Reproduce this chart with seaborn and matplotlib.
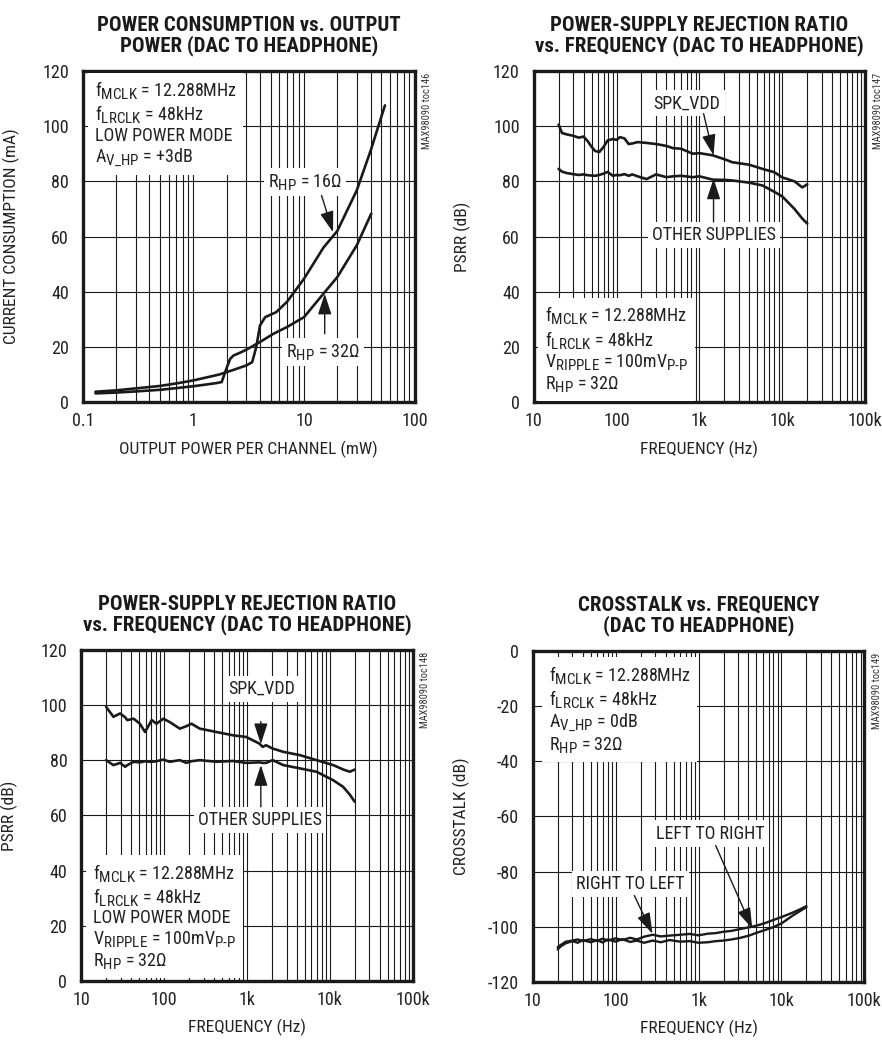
import numpy as np
import pandas as pd
import matplotlib
matplotlib.use("Agg")
import matplotlib.pyplot as plt
from matplotlib import font_manager
from matplotlib.ticker import LogLocator, FixedLocator, FixedFormatter, NullFormatter
import seaborn as sns

sns.set_style("white")

# datasheet subscripts are nearly full size
try:
    import matplotlib._mathtext as _mt
    _mt.SHRINK_FACTOR = 0.84
except Exception:
    pass


def pick(prefs, min_weight=0):
    # first installed family from prefs (optionally needing a heavy face)
    for name in prefs:
        for f in font_manager.fontManager.ttflist:
            if f.name != name:
                continue
            try:
                w = int(f.weight)
            except (TypeError, ValueError):
                w = 700 if 'bold' in str(f.weight) else 400
            if w >= min_weight:
                return name
    return 'DejaVu Sans'


BODY = pick(['Roboto Condensed', 'Liberation Sans Narrow', 'Archivo Narrow', 'PT Sans Narrow',
             'Asap Condensed', 'Barlow Semi Condensed'])
HEAD = pick(['Roboto Condensed', 'Archivo Narrow', 'Asap Condensed', 'Barlow Semi Condensed',
             'Barlow Condensed'], min_weight=700)

plt.rcParams['font.family'] = [BODY, 'DejaVu Sans']
plt.rcParams['mathtext.fontset'] = 'custom'
plt.rcParams['mathtext.rm'] = BODY
plt.rcParams['mathtext.it'] = BODY + ':italic'
plt.rcParams['mathtext.bf'] = BODY + ':bold'
plt.rcParams['axes.unicode_minus'] = False

INK = '#1a1a1a'

# --- power consumption vs output power (mW -> mA)
pc16_pow = [0.13, 0.2, 0.3, 0.5, 0.7, 1, 1.7, 2.3, 3.0, 3.4, 3.7, 4.0, 4.45, 5.6, 7, 10, 15, 20, 30, 40, 54]
pc16_ma = [3.8, 4.3, 5.0, 5.9, 6.8, 7.9, 10.0, 11.7, 13.3, 14.5, 20, 27.8, 30.8, 32.6, 36.3, 44.7, 56, 62, 76.7, 91, 107.5]
pc32_pow = [0.13, 0.2, 0.3, 0.5, 0.7, 1, 1.3, 1.6, 1.8, 2.0, 2.15, 2.3, 2.6, 3, 4, 5.3, 7, 10, 15, 20, 30, 40.6]
pc32_ma = [3.2, 3.5, 3.9, 4.5, 5.1, 5.8, 6.4, 6.9, 7.3, 12.5, 15.7, 16.9, 17.8, 19, 21.8, 24.8, 27.2, 30.8, 39.3, 45.3, 56.8, 68.3]

# --- PSRR vs frequency (normal mode)
psrr1_freq = [20, 22, 25, 30, 35, 40, 45, 50, 55, 62, 70, 78, 90, 100, 110, 125, 140, 155, 180, 230, 300,
              400, 480, 600, 830, 1000, 1450, 2000, 2500, 4000, 5750, 8000, 10000, 14000, 17400, 20000]
psrr1_spk = [100.5, 97.5, 97, 96.5, 95.8, 96.2, 94.5, 92.5, 91, 90.6, 92.5, 94.8, 95.3, 95, 96, 95.5, 93.5,
             93.7, 94.2, 93.9, 93.5, 92.8, 92, 91.8, 90, 90.2, 89.4, 88, 86.9, 86, 84.5, 83.3, 81.4, 80, 77.8, 78.9]
psrr1_oth = [84.5, 83.5, 83, 82.6, 82.3, 82.5, 82.2, 82.1, 82, 82.3, 82.8, 83.4, 82, 82.3, 82.2, 82.6, 82,
             82.5, 81.8, 80.8, 82.5, 81.5, 81.8, 82, 81.5, 81.8, 80.6, 80.5, 80.3, 79.5, 78.5, 76.2, 74.5, 70, 66.5, 64.7]

# --- PSRR vs frequency (low power mode)
psrr2_freq = [20, 24.5, 29.5, 34, 36, 43, 51, 59, 68, 71, 81, 98, 117, 155, 186, 214, 270, 427, 676, 977,
              1410, 1550, 1700, 2040, 2750, 4370, 6900, 11000, 14500, 17400, 20000]
psrr2_spk = [99.3, 95.7, 96.9, 95.5, 94.5, 95, 93.2, 90.2, 93.5, 94.5, 93.2, 95, 93.8, 91.4, 92.3, 93.2,
             91.4, 90.2, 89, 88.4, 86, 84.8, 85.4, 84.2, 83, 81.8, 80, 78.2, 76.6, 75.8, 76.6]
psrr2_oth = [80, 78.2, 79, 77.6, 78.2, 79.4, 79.2, 79.6, 79.4, 79.4, 79.6, 80.2, 79.4, 80, 79, 79.6,
             80, 79.4, 79.7, 79, 79.2, 79, 79, 80, 78.2, 77, 75.8, 72.7, 70.3, 67.5, 64.9]

# --- crosstalk vs frequency
ct_freq = [20, 22, 25, 30, 35, 40, 50, 60, 70, 80, 100, 120, 150, 180, 220, 280, 350, 450, 600, 780, 1000,
           1300, 1620, 2000, 2500, 3200, 4070, 5000, 6300, 7900, 10000, 13600, 17000, 20000]
ct_lr = [-107.4, -106.5, -105.4, -105, -104.6, -105.2, -104.5, -105.1, -104.3, -105, -104.2, -104.8, -104,
         -104.6, -103.6, -102.9, -103.5, -103.2, -102.9, -102.6, -103.1, -102.5, -102.3, -101.8, -101.5,
         -100.8, -100.2, -99.6, -98.7, -97.6, -96.5, -94.9, -93.6, -92.5]
ct_rl = [-108.2, -107, -106, -105.2, -105.8, -104.8, -105.6, -104.9, -105.7, -104.6, -105.4, -104.5, -105.5,
         -105, -105.8, -105, -105.6, -104.8, -105.4, -105.2, -105.8, -105.6, -105.2, -105, -104.6, -104,
         -103.2, -102.2, -101.2, -100.2, -98.8, -96, -94.2, -92.9]

pow_ticks = [0.1, 1, 10, 100]
pow_labels = ['0.1', '1', '10', '100']
freq_ticks = [10, 100, 1000, 10000, 100000]
freq_labels = ['10', '100', '1k', '10k', '100k']

fig = plt.figure(figsize=(8.82, 10.42), dpi=100)
ax_pc = fig.add_axes([0.094, 0.614, 0.376, 0.318])
ax_p1 = fig.add_axes([0.605, 0.614, 0.376, 0.318])
ax_p2 = fig.add_axes([0.092, 0.0585, 0.376, 0.318])
ax_ct = fig.add_axes([0.604, 0.0576, 0.376, 0.318])


def style(ax, xt, xl, xlim, ylim, title, xlabel, ylabel, tag):
    ax.set_xscale('log')
    ax.set_xlim(*xlim)
    ax.set_ylim(*ylim)
    ax.xaxis.set_major_locator(FixedLocator(xt))
    ax.xaxis.set_major_formatter(FixedFormatter(xl))
    ax.xaxis.set_minor_locator(LogLocator(base=10, subs=np.arange(2, 10)))
    ax.xaxis.set_minor_formatter(NullFormatter())
    ax.set_yticks(np.arange(ylim[0], ylim[1] + 1, 20))
    ax.set_axisbelow(True)
    ax.grid(True, which='major', axis='both', color=INK, lw=0.8)
    ax.grid(True, which='minor', axis='x', color=INK, lw=0.8)
    ax.tick_params(which='both', length=0, labelsize=13, colors='#222222')
    ax.tick_params(axis='x', pad=7)
    ax.tick_params(axis='y', pad=10)
    for s in ax.spines.values():
        s.set_visible(True)
        s.set_color(INK)
        s.set_linewidth(2.4)
    ax.set_title(title, fontsize=15, fontweight=900, family=[HEAD, 'DejaVu Sans'],
                 color='#1a1a1a', pad=14, linespacing=1.0)
    ax.set_xlabel(xlabel, fontsize=12.5, color='#222222')
    ax.set_ylabel(ylabel, fontsize=12.5, color='#222222')
    ax.xaxis.set_label_coords(0.5, -0.115)
    ax.yaxis.set_label_coords(-0.19, 0.5)
    ax.text(1.022, 0.995, tag, transform=ax.transAxes, rotation=90, ha='left', va='top',
            fontsize=7.5, color='#333333')


def draw(ax, x, y, lw=1.9):
    df = pd.DataFrame({'x': x, 'y': y})
    sns.lineplot(data=df, x='x', y='y', ax=ax, color=INK, lw=lw, sort=False, estimator=None)


box = dict(facecolor='white', edgecolor='none', pad=3)
arrow = dict(arrowstyle='-|>,head_length=0.8,head_width=0.26', color=INK, lw=1.0,
             mutation_scale=16, shrinkA=0, shrinkB=0)


def info(ax, x, y, text):
    ax.text(x, y, text, transform=ax.transAxes, ha='left', va='top', fontsize=13, color='#222222',
            linespacing=1.12, bbox=dict(facecolor='white', edgecolor='none', pad=5), zorder=3)


def label(ax, x, y, text):
    ax.text(x, y, text, transform=ax.transAxes, ha='center', va='center', fontsize=13,
            color='#222222', bbox=box, zorder=3)


RIPPLE = 'V$_{\\mathrm{RIPPLE}}$ = 100mV$_{\\mathrm{P}\\text{-}\\mathrm{P}}$'

# power consumption
draw(ax_pc, pc16_pow, pc16_ma)
draw(ax_pc, pc32_pow, pc32_ma)
style(ax_pc, pow_ticks, pow_labels, (0.1, 100), (0, 120),
      'POWER CONSUMPTION vs. OUTPUT\nPOWER (DAC TO HEADPHONE)',
      'OUTPUT POWER PER CHANNEL (mW)', 'CURRENT CONSUMPTION (mA)', 'MAX98090 toc146')
info(ax_pc, 0.035, 0.975, 'f$_{\\mathrm{MCLK}}$ = 12.288MHz\nf$_{\\mathrm{LRCLK}}$ = 48kHz\n'
     'LOW POWER MODE\nA$_{\\mathrm{V\\_HP}}$ = +3dB')
label(ax_pc, 0.669, 0.665, 'R$_{\\mathrm{HP}}$ = 16Ω')
label(ax_pc, 0.723, 0.151, 'R$_{\\mathrm{HP}}$ = 32Ω')
ax_pc.annotate('', xy=(18.3, 61.6), xytext=(14.4, 74.9), arrowprops=arrow)
ax_pc.annotate('', xy=(15.4, 39.3), xytext=(15.4, 24.8), arrowprops=arrow)

# PSRR normal
draw(ax_p1, psrr1_freq, psrr1_spk)
draw(ax_p1, psrr1_freq, psrr1_oth)
style(ax_p1, freq_ticks, freq_labels, (10, 100000), (0, 120),
      'POWER-SUPPLY REJECTION RATIO\nvs. FREQUENCY (DAC TO HEADPHONE)',
      'FREQUENCY (Hz)', 'PSRR (dB)', 'MAX98090 toc147')
info(ax_p1, 0.035, 0.295, 'f$_{\\mathrm{MCLK}}$ = 12.288MHz\nf$_{\\mathrm{LRCLK}}$ = 48kHz\n'
     + RIPPLE + '\nR$_{\\mathrm{HP}}$ = 32Ω')
label(ax_p1, 0.463, 0.902, 'SPK_VDD')
label(ax_p1, 0.543, 0.505, 'OTHER SUPPLIES')
ax_p1.annotate('', xy=(1480, 89.4), xytext=(1123, 104.5), arrowprops=arrow)
ax_p1.annotate('', xy=(1480, 81), xytext=(1480, 65.3), arrowprops=arrow)

# PSRR low power
draw(ax_p2, psrr2_freq, psrr2_spk)
draw(ax_p2, psrr2_freq, psrr2_oth)
style(ax_p2, freq_ticks, freq_labels, (10, 100000), (0, 120),
      'POWER-SUPPLY REJECTION RATIO\nvs. FREQUENCY (DAC TO HEADPHONE)',
      'FREQUENCY (Hz)', 'PSRR (dB)', 'MAX98090 toc148')
info(ax_p2, 0.035, 0.36, 'f$_{\\mathrm{MCLK}}$ = 12.288MHz\nf$_{\\mathrm{LRCLK}}$ = 48kHz\n'
     'LOW POWER MODE\n' + RIPPLE + '\nR$_{\\mathrm{HP}}$ = 32Ω')
label(ax_p2, 0.544, 0.882, 'SPK_VDD')
label(ax_p2, 0.539, 0.485, 'OTHER SUPPLIES')
ax_p2.annotate('', xy=(1470, 85.8), xytext=(1470, 94), arrowprops=arrow)
ax_p2.annotate('', xy=(1470, 78.2), xytext=(1470, 63.1), arrowprops=arrow)

# crosstalk
draw(ax_ct, ct_freq, ct_lr, lw=1.7)
draw(ax_ct, ct_freq, ct_rl, lw=1.7)
style(ax_ct, freq_ticks, freq_labels, (10, 100000), (-120, 0),
      'CROSSTALK vs. FREQUENCY\n(DAC TO HEADPHONE)',
      'FREQUENCY (Hz)', 'CROSSTALK (dB)', 'MAX98090 toc149')
info(ax_ct, 0.048, 0.96, 'f$_{\\mathrm{MCLK}}$ = 12.288MHz\nf$_{\\mathrm{LRCLK}}$ = 48kHz\n'
     'A$_{\\mathrm{V\\_HP}}$ = 0dB\nR$_{\\mathrm{HP}}$ = 32Ω')
label(ax_ct, 0.536, 0.448, 'LEFT TO RIGHT')
label(ax_ct, 0.295, 0.296, 'RIGHT TO LEFT')
ax_ct.annotate('', xy=(4450, -100.7), xytext=(1610, -70.6), arrowprops=arrow)
ax_ct.annotate('', xy=(278, -102.5), xytext=(168, -88.7), arrowprops=arrow)

fig.savefig('out.png', dpi=100)
